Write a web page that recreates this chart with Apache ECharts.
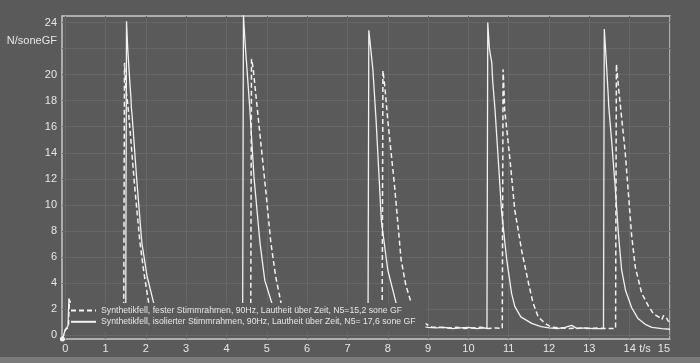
<!DOCTYPE html>
<html><head><meta charset="utf-8">
<script src="https://cdn.jsdelivr.net/npm/echarts@6/dist/echarts.min.js"></script>
<style>html,body{margin:0;padding:0;background:#7a7a7a;}#c{width:700px;height:357px;}</style>
</head><body><div id="c"></div>
<script>
const solidName = 'Synthetikfell, isolierter Stimmrahmen, 90Hz, Lautheit über Zeit, N5= 17,6 sone GF';
const dashName = 'Synthetikfell, fester Stimmrahmen, 90Hz, Lautheit über Zeit, N5=15,2 sone GF';
const xTicks = [0,1,2,3,4,5,6,7,8,9,10,11,12,13,14,15];
const yTicks = [0,2,4,6,8,10,12,14,16,18,20,22,24];
const yUnit = 'N/soneGF';
const xUnit = 't/s';
const solidT = [-0.07,0,0.07,0.09,0.12,0.2,0.6,1.0,1.50,1.52,1.55,1.60,1.63,1.64,1.66,1.78,1.90,2.03,2.20,2.40,2.70,3.0,3.5,4.0,4.40,4.42,4.46,4.52,4.58,4.68,4.83,4.95,5.12,5.30,5.60,6.0,6.5,7.0,7.51,7.53,7.63,7.71,7.84,8.00,8.22,8.40,8.70,9.0,9.2,9.4,9.6,9.8,10.0,10.2,10.4,10.46,10.48,10.52,10.58,10.60,10.66,10.74,10.82,10.95,11.07,11.15,11.30,11.57,11.80,12.0,12.2,12.4,12.56,12.7,12.9,13.1,13.3,13.35,13.37,13.42,13.47,13.48,13.55,13.64,13.72,13.80,13.90,14.05,14.20,14.40,14.55,14.80,15.0];
const solidY = [-0.3,0.4,0.7,2.8,2.6,0.6,0.5,0.5,0.5,24.1,22.0,19.5,18.2,17.5,16.8,11.7,7.1,4.5,2.4,1.3,0.7,0.55,0.5,0.5,0.5,24.6,22.5,19.9,17.3,12.2,7.1,4.2,2.5,1.4,0.7,0.55,0.5,0.5,0.5,23.4,20.4,16.5,8.8,5.0,2.3,1.3,0.7,0.6,0.55,0.6,0.5,0.55,0.6,0.5,0.55,0.5,24.0,22.0,20.9,19.6,17.3,13.5,9.6,5.8,3.2,2.2,1.4,0.9,0.65,0.55,0.5,0.6,0.75,0.5,0.55,0.5,0.5,0.5,23.5,21.0,18.3,17.6,15.0,11.4,7.8,5.0,3.4,2.1,1.3,0.8,0.6,0.5,0.45];
const dashT = [-0.07,0,0.08,0.1,0.13,0.2,0.6,1.0,1.45,1.47,1.50,1.55,1.60,1.72,1.85,1.95,2.07,2.30,2.60,3.0,3.5,4.0,4.60,4.62,4.66,4.68,4.85,4.98,5.10,5.22,5.35,5.55,5.85,6.2,6.8,7.4,7.86,7.88,7.93,8.00,8.17,8.33,8.45,8.60,8.80,9.1,9.3,9.5,9.7,9.9,10.1,10.3,10.5,10.7,10.84,10.86,10.88,10.90,11.03,11.15,11.32,11.49,11.60,11.73,11.90,12.06,12.3,12.5,12.8,13.0,13.2,13.4,13.65,13.67,13.70,13.72,13.89,14.05,14.14,14.30,14.47,14.60,14.72,14.80,14.84,14.90,14.95,15.0];
const dashY = [-0.3,0.4,0.6,2.5,2.3,0.6,0.5,0.5,0.5,20.9,19.0,17.8,16.0,11.5,7.2,4.8,2.5,1.2,0.6,0.55,0.5,0.5,0.5,21.2,20.5,19.9,14.8,10.9,7.1,4.5,2.5,1.3,0.7,0.55,0.5,0.5,0.5,20.3,19.0,16.5,11.4,5.8,3.8,2.3,1.1,0.6,0.6,0.55,0.6,0.5,0.55,0.6,0.5,0.55,0.5,20.4,19.0,17.3,13.5,9.6,6.5,4.0,2.5,1.4,0.9,0.6,0.55,0.5,0.55,0.5,0.55,0.5,0.5,20.8,19.8,19.1,14.0,7.6,5.2,3.2,2.2,1.6,1.4,1.2,1.5,1.4,1.1,1.0];

const pairs = (t, y) => t.map((v, i) => [v, y[i]]);
const solidData = pairs(solidT, solidY);
solidData[0] = {value: solidData[0], symbol: 'circle', symbolSize: 5};

const BG = '#5a5a5a';
const LBL = '#e6e6e6';
const FONT = 'Liberation Sans';
const chart = echarts.init(document.getElementById('c'), null, {renderer: 'canvas'});
chart.setOption({
  animation: false,
  backgroundColor: BG,
  grid: {left: 62, right: 30, top: 16, bottom: 18, show: true, borderColor: '#c9c9c9', borderWidth: 1.5, outerBoundsMode: 'none'},
  legend: {
    orient: 'vertical', left: 70, top: 303, itemGap: 0, itemWidth: 25, itemHeight: 14,
    padding: [2, 10, 4, 0], backgroundColor: BG,
    itemStyle: {opacity: 0},
    textStyle: {color: LBL, fontSize: 8.7, fontFamily: FONT},
    data: [dashName, solidName]
  },
  xAxis: {
    type: 'value', min: -0.08, max: 15,
    axisLine: {show: false},
    axisTick: {show: false, customValues: xTicks},
    axisLabel: {
      customValues: xTicks, color: LBL, fontSize: 11, fontFamily: FONT, margin: 4, alignMaxLabel: 'right',
      formatter: v => v === 15 ? '{u|' + xUnit + '}' + v : String(v),
      rich: {u: {color: LBL, fontSize: 11, fontFamily: FONT, padding: [0, 7, 0, 0]}}
    },
    splitLine: {show: true, lineStyle: {color: '#676767', width: 1}}
  },
  yAxis: {
    type: 'value', min: -0.3, max: 24.5,
    axisLine: {show: false},
    axisTick: {show: false, customValues: yTicks},
    axisLabel: {
      customValues: yTicks, color: LBL, fontSize: 11, fontFamily: FONT, margin: 5,
      formatter: v => v === 22 ? '{u|' + yUnit + '}' : String(v),
      rich: {u: {color: LBL, fontSize: 11, fontFamily: FONT, padding: [0, 0, 15, 0]}}
    },
    splitLine: {show: true, lineStyle: {color: '#676767', width: 1}}
  },
  series: [
    {name: dashName, type: 'line', symbol: 'none', data: pairs(dashT, dashY), z: 2,
     lineStyle: {color: '#f2f2f2', width: 1.5, type: [5, 3]}, itemStyle: {color: '#f2f2f2'}},
    {name: solidName, type: 'line', symbol: 'none', data: solidData, z: 3,
     lineStyle: {color: '#f2f2f2', width: 1.3}, itemStyle: {color: '#f2f2f2'}}
  ]
});
</script></body></html>
